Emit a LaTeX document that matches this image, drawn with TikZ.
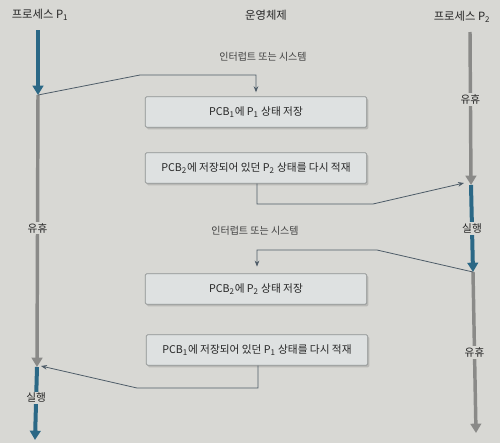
\documentclass[tikz,border=0pt]{standalone}
\usepackage{fontspec}
\setmainfont{Noto Sans CJK KR}
\usetikzlibrary{arrows.meta,shadows}
\definecolor{bg}{HTML}{D8D8D4}
\definecolor{boxfill}{HTML}{DEE1E1}
\definecolor{boxline}{HTML}{8E9292}
\definecolor{runblue}{HTML}{2B6886}
\definecolor{idlegray}{HTML}{8A8A88}
\definecolor{conn}{HTML}{4E5C68}
\begin{document}
\begin{tikzpicture}[x=0.75pt,y=-0.75pt,
  title/.style={font=\fontsize{8.5}{10}\selectfont, text=black!85},
  stepbox/.style={draw=boxline, line width=0.6pt, fill=boxfill, minimum width=166pt, minimum height=23pt,
     rounded corners=1pt, font=\fontsize{8}{10}\selectfont, text=black!85,
     drop shadow={opacity=0.35, shadow xshift=1.2pt, shadow yshift=-1.5pt}},
  note/.style={font=\fontsize{7.5}{9}\selectfont, text=black!75},
  runline/.style={draw=runblue, line width=3pt, -{Triangle[length=7pt,width=8pt]}},
  idleline/.style={draw=idlegray, line width=2.6pt, -{Triangle[length=7pt,width=8pt]}},
  state/.style={fill=bg, inner sep=1pt, font=\fontsize{8}{10}\selectfont, text=black!85},
  connector/.style={draw=conn, line width=0.6pt, -{Stealth[length=4.5pt,width=3.5pt]}}
]
\fill[bg] (0,0) rectangle (500,443);
\useasboundingbox (0,0) rectangle (500,443);

\node[title] (t1) at (40,15) {프로세스 P\textsubscript{1}};
\node[title] (t2) at (266,15) {운영체제};
\node[title] (t3) at (462,17) {프로세스 P\textsubscript{2}};

\node[note] (i1) at (263,57) {인터럽트 또는 시스템};
\node[note] (i2) at (255,231) {인터럽트 또는 시스템};

\node[stepbox] (b1) at (256,112) {PCB\textsubscript{1}에 P\textsubscript{1} 상태 저장};
\node[stepbox] (b2) at (256,168) {PCB\textsubscript{2}에 저장되어 있던 P\textsubscript{2} 상태를 다시 적재};
\node[stepbox] (b3) at (256,289) {PCB\textsubscript{2}에 P\textsubscript{2} 상태 저장};
\node[stepbox] (b4) at (257,350) {PCB\textsubscript{1}에 저장되어 있던 P\textsubscript{1} 상태를 다시 적재};

% process P1 timeline
\coordinate (a1) at (38,30);
\coordinate (a2) at (38,95);
\coordinate (a3) at (37,367);
\coordinate (a4) at (35,440);
\draw[runline] (a1) -- (a2);
\draw[idleline] (a2) -- (a3) node[state, pos=0.49] (l1) {유휴};
\draw[runline] (a3) -- (a4) node[state, pos=0.42] (l2) {실행};

% process P2 timeline
\coordinate (c1) at (470,32);
\coordinate (c2) at (471,185);
\coordinate (c3) at (473,272);
\coordinate (c4) at (476,433);
\draw[idleline] (c1) -- (c2) node[state, pos=0.44] (l3) {유휴};
\draw[runline] (c2) -- (c3) node[state, pos=0.5] (l4) {실행};
\draw[idleline] (c3) -- (c4) node[state, pos=0.5] (l5) {유휴};

% connectors
\coordinate (k1) at (140,75);
\coordinate (k2) at (256,75);
\draw[connector, shorten >=3pt] (a2) -- (k1) -- (k2) -- (k2 |- b1.north);

\coordinate (m1) at (257,204);
\coordinate (m2) at (373,204);
\coordinate (m3) at (464,183);
\draw[connector] (b2.south -| m1) -- (m1) -- (m2) -- (m3);

\coordinate (n1) at (377,250);
\coordinate (n2) at (257,250);
\draw[connector, shorten >=5pt] (c3) -- (n1) -- (n2) -- (n2 |- b3.north);

\coordinate (p1) at (258,388);
\coordinate (p2) at (137,388);
\coordinate (p3) at (41,366);
\draw[connector] (b4.south -| p1) -- (p1) -- (p2) -- (p3);
\end{tikzpicture}
\end{document}
